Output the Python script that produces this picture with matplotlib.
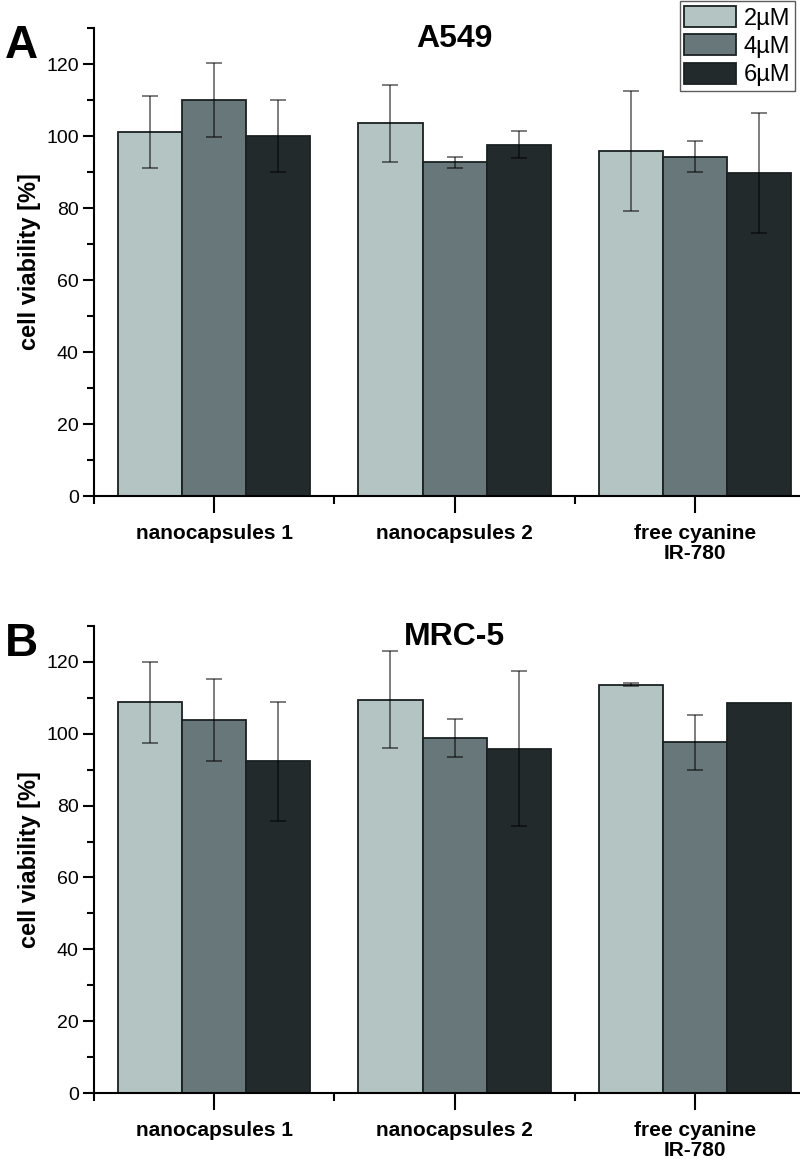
import numpy as np
import matplotlib
matplotlib.use("Agg")
import matplotlib.pyplot as plt
from matplotlib.ticker import MultipleLocator, FixedLocator

plt.rcParams['font.family'] = ['Liberation Sans', 'DejaVu Sans']

groups = ["nanocapsules 1", "nanocapsules 2", "free cyanine\nIR-780"]
doses = ["2µM", "4µM", "6µM"]
colors = ["#b4c4c2", "#687779", "#222a2c"]

# A549 viability [%] per dose, per group
a549_mean = [[101.2, 103.5, 95.9],
             [110.1, 92.7, 94.2],
             [100.0, 97.6, 89.7]]
a549_err = [[10.0, 10.8, 16.7],
            [10.3, 1.5, 4.3],
            [10.0, 3.7, 16.7]]

# MRC-5 viability [%] per dose, per group
mrc5_mean = [[108.8, 109.5, 113.7],
             [103.8, 98.9, 97.6],
             [92.3, 95.8, 108.7]]
mrc5_err = [[11.3, 13.4, 0.5],
            [11.4, 5.3, 7.7],
            [16.5, 21.6, 0.0]]

fig = plt.figure(figsize=(8, 11.59), dpi=100)
ax_a = fig.add_axes([0.1175, 0.572, 0.9015, 0.4038])
ax_b = fig.add_axes([0.1175, 0.0569, 0.9015, 0.403])

x = np.arange(1, len(groups) + 1)
w = 0.8 / 3


def panel(ax, means, errs, title, letter):
    handles = []
    for i, (m, e) in enumerate(zip(means, errs)):
        pos = x + (i - 1) * w
        b = ax.bar(pos, m, w, color=colors[i], edgecolor="#1a2122",
                   linewidth=1.3, label=doses[i], zorder=2)
        handles.append(b)
        keep = np.array(e) > 0
        ax.errorbar(pos[keep], np.array(m)[keep], yerr=np.array(e)[keep],
                    fmt="none", ecolor="black", alpha=0.55,
                    elinewidth=1.3, capsize=6, capthick=1.3, zorder=3)
    ax.set_xlim(0.5, 3.5)
    ax.set_ylim(0, 130)
    ax.spines["top"].set_visible(False)
    ax.spines["right"].set_visible(False)
    ax.spines["left"].set_linewidth(1.5)
    ax.spines["bottom"].set_linewidth(1.5)
    ax.yaxis.set_minor_locator(MultipleLocator(10))
    ax.set_yticks(range(0, 121, 20))
    ax.set_xticks(x)
    ax.set_xticklabels(groups, fontweight="bold", fontsize=15,
                       linespacing=1.05)
    ax.xaxis.set_minor_locator(FixedLocator([0.5, 1.5, 2.5]))
    ax.tick_params(axis="y", which="major", length=8, width=1.5,
                   labelsize=14, pad=3)
    ax.tick_params(axis="y", which="minor", length=5, width=1.5)
    ax.tick_params(axis="x", which="major", length=12, width=1.5, pad=8)
    ax.tick_params(axis="x", which="minor", length=6, width=1.5)
    ax.set_ylabel("cell viability [%]", fontweight="bold", fontsize=17,
                  labelpad=4)
    ax.text(2, 127, title, ha="center", va="center", fontsize=23,
            fontweight="bold")
    ax.text(-0.1, 0.962, letter, transform=ax.transAxes, ha="center",
            va="center", fontsize=33, fontweight="bold")
    return handles


h = panel(ax_a, a549_mean, a549_err, "A549", "A")
panel(ax_b, mrc5_mean, mrc5_err, "MRC-5", "B")

leg = fig.legend(h, doses, loc="upper right", bbox_to_anchor=(0.995, 1.0),
                 frameon=True, fancybox=False, edgecolor="#333333",
                 prop={"size": 17},
                 handlelength=2.2, handleheight=1.0, borderpad=0.2,
                 labelspacing=0.2, handletextpad=0.3, borderaxespad=0.05)
leg.get_frame().set_linewidth(1.0)

fig.savefig("out.png", dpi=100)
